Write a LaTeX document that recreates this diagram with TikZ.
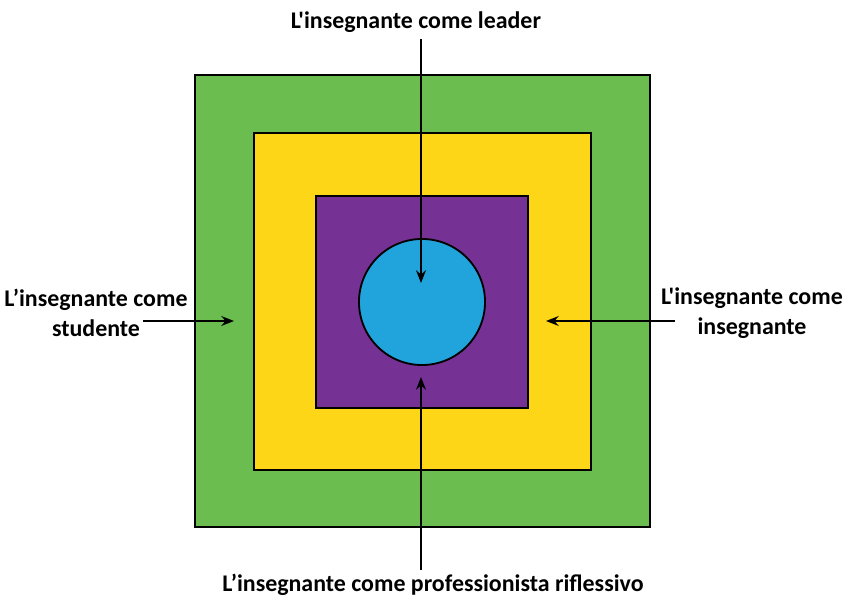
\documentclass[tikz,border=0pt]{standalone}
\usepackage{fontspec}
\setmainfont{Carlito}[Ligatures=TeXOff]
\usepackage{xcolor}
\usepackage{tikz}
\usetikzlibrary{arrows.meta,positioning}

\definecolor{ringgreen}{RGB}{106,189,78}
\definecolor{ringyellow}{RGB}{253,214,24}
\definecolor{ringpurple}{RGB}{117,49,148}
\definecolor{coreblue}{RGB}{33,163,219}

\begin{document}
\begin{tikzpicture}[
    x=0.025cm, y=-0.025cm,
    ring/.style={rectangle, draw=black, line width=1.3pt, inner sep=0pt},
    core/.style={circle, draw=black, line width=1.3pt, fill=coreblue, minimum size=3.15cm, inner sep=0pt},
    lbl/.style={font=\fontsize{17}{21}\selectfont\bfseries, align=center, inner sep=1pt},
    arr/.style={line width=1.3pt, -{Stealth[length=9pt, width=7pt]}}
]
    \useasboundingbox (0,0) rectangle (849,602);

    % nested squares and the centre circle
    \node[ring, fill=ringgreen, minimum width=11.375cm, minimum height=11.3cm] (green) at (422.5,301) {};
    \node[ring, fill=ringyellow, minimum size=8.425cm] (yellow) at (422.5,301.5) {};
    \node[ring, fill=ringpurple, minimum size=5.3cm] (purple) at (422,302) {};
    \node[core] (centre) at (422,302) {};

    % labels
    \node[lbl] (leader) at (416,22) {L'insegnante come leader};
    \node[lbl] (studente) at (96,313) {L’insegnante come\\studente};
    \node[lbl] (insegnante) at (752,313) {L'insegnante come\\insegnante};
    \node[lbl] (riflessivo) at (433,585) {L’insegnante come professionista riflessivo};

    % arrow ends
    \coordinate (leaderTip) at (421,283);
    \coordinate (riflTip) at (421,377);
    \coordinate (studStart) at (143,321);
    \coordinate (studTip) at (234,321);
    \coordinate (insStart) at (675,321);
    \coordinate (insTip) at (546,321);

    \draw[arr] (leader.south -| leaderTip) ++(0,5) -- (leaderTip);
    \draw[arr] (riflessivo.north -| riflTip) ++(0,-3) -- (riflTip);
    \draw[arr] (studStart) -- (studTip);
    \draw[arr] (insStart) -- (insTip);
\end{tikzpicture}
\end{document}
